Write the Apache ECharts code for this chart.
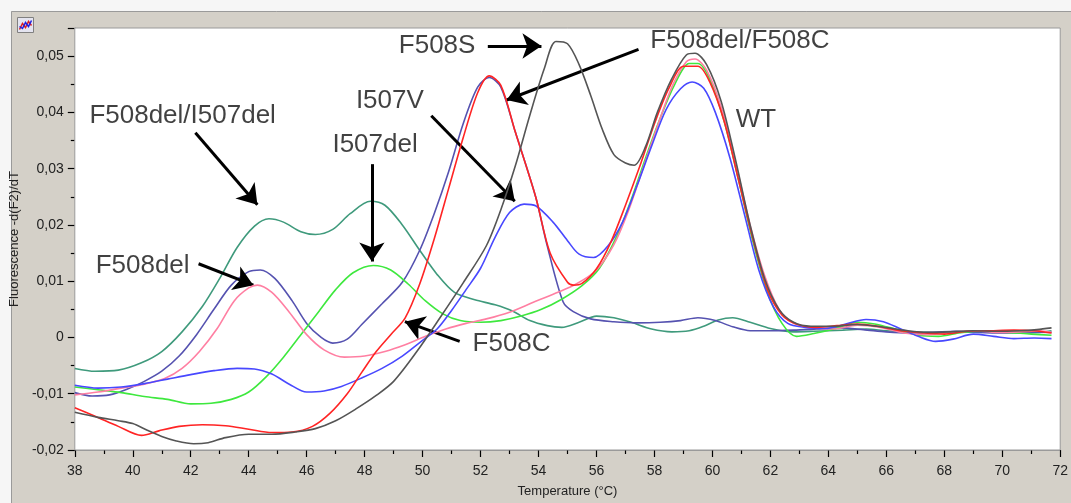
<!doctype html>
<html lang="en">
<head>
<meta charset="UTF-8">
<title>Melting curves</title>
<script src="https://cdn.jsdelivr.net/npm/echarts/dist/echarts.min.js"></script>
<style>
  html, body { margin: 0; padding: 0; background: #d4d0c8; }
</style>
</head>
<body>
<div id="main" style="width:1071px;height:503px;"></div>
<script type="text/javascript">
// data: [temperature, -d(F2)/dT]
var delI507del = [[38,-0.0055],[38.7,-0.006],[39.5,-0.0058],[40.3,-0.0045],[41,-0.0025],[41.7,0.001],[42.4,0.0055],[43,0.0105],[43.6,0.016],[44.2,0.0198],[44.7,0.0211],[45.2,0.0205],[45.8,0.0188],[46.3,0.0183],[46.9,0.0192],[47.5,0.022],[48.2,0.0242],[48.7,0.0235],[49.3,0.02],[49.9,0.0155],[50.5,0.0112],[51.1,0.008],[51.8,0.0067],[52.5,0.0058],[53.1,0.0047],[53.7,0.003],[54.3,0.0021],[54.8,0.0018],[55.4,0.0027],[56,0.0038],[56.6,0.0035],[57.2,0.0027],[57.9,0.0015],[58.6,0.001],[59.2,0.0012],[59.7,0.002],[60.2,0.0031],[60.7,0.0035],[61.3,0.0027],[62,0.0016],[62.8,0.001],[63.5,0.0011],[64.5,0.0013],[65.3,0.0015],[66,0.0012],[67,0.001],[68,0.0008],[69,0.001],[70,0.0009],[71,0.0008],[71.7,0.0012]];
var delF508C = [[38,-0.0098],[38.6,-0.0104],[39.2,-0.0102],[39.8,-0.0092],[40.4,-0.0078],[41,-0.006],[41.6,-0.0033],[42.2,0.0005],[42.8,0.005],[43.4,0.0093],[44,0.0117],[44.4,0.012],[44.9,0.0105],[45.5,0.0065],[46,0.0025],[46.5,0.0],[46.9,-0.001],[47.4,-0.0003],[47.9,0.0023],[48.6,0.006],[49.3,0.0098],[49.9,0.0155],[50.4,0.022],[50.9,0.0295],[51.4,0.038],[51.9,0.0445],[52.3,0.0462],[52.7,0.0445],[53.2,0.0365],[53.9,0.025],[54.3,0.0163],[54.85,0.0063],[55.2,0.0046],[55.8,0.0033],[56.6,0.0028],[57.4,0.0026],[58.2,0.0027],[58.9,0.003],[59.5,0.0035],[60.1,0.003],[60.7,0.0019],[61.3,0.0012],[62,0.0012],[62.8,0.0013],[63.6,0.0015],[64.4,0.0017],[65.2,0.0014],[66,0.001],[66.8,0.0008],[67.6,0.0009],[68.4,0.0011],[69.2,0.0009],[70,0.0008],[70.8,0.001],[71.7,0.0009]];
var i507del = [[38,-0.0088],[38.8,-0.0093],[39.6,-0.0098],[40.4,-0.0105],[41.2,-0.011],[42,-0.0118],[42.7,-0.0117],[43.4,-0.011],[44,-0.0097],[44.6,-0.007],[45.2,-0.0035],[45.8,0.0005],[46.4,0.0045],[47,0.0085],[47.6,0.0115],[48.3,0.0128],[48.9,0.012],[49.5,0.0095],[50.1,0.0065],[50.7,0.0042],[51.3,0.003],[52,0.0027],[52.7,0.003],[53.4,0.0038],[54.1,0.005],[54.8,0.0068],[55.5,0.0092],[56.1,0.0123],[56.7,0.018],[57.2,0.0245],[57.7,0.032],[58.2,0.039],[58.7,0.045],[59.2,0.0487],[59.5,0.0487],[59.9,0.046],[60.4,0.0385],[60.9,0.028],[61.4,0.017],[61.9,0.008],[62.4,0.0025],[62.9,0.0002],[63.5,0.0007],[64.2,0.0015],[65,0.0027],[65.6,0.0024],[66.3,0.0015],[67.1,0.0004],[67.8,0.0002],[68.6,0.0009],[69.4,0.0011],[70.2,0.0009],[71,0.0006],[71.7,0.0004]];
var f508del = [[38,-0.0102],[38.8,-0.0097],[39.6,-0.009],[40.4,-0.0083],[41.1,-0.0073],[41.7,-0.0055],[42.3,-0.0025],[42.9,0.0015],[43.5,0.0065],[44,0.0088],[44.3,0.0093],[44.8,0.008],[45.4,0.0045],[46,0.0005],[46.6,-0.0022],[47.3,-0.0035],[48,-0.0033],[48.7,-0.0025],[49.4,-0.0013],[50.1,0.0002],[50.8,0.0015],[51.5,0.0025],[52.2,0.0033],[53,0.0045],[53.8,0.0062],[54.6,0.0079],[55.3,0.0095],[56,0.012],[56.6,0.0165],[57.1,0.0225],[57.6,0.03],[58.1,0.0375],[58.6,0.0445],[59.1,0.049],[59.4,0.0495],[59.8,0.0475],[60.3,0.041],[60.8,0.031],[61.3,0.02],[61.8,0.011],[62.3,0.005],[62.8,0.0025],[63.4,0.0018],[64.2,0.0015],[65,0.0022],[65.8,0.0018],[66.6,0.0008],[67.4,0.0005],[68.2,0.0009],[69,0.0012],[69.8,0.0009],[70.6,0.001],[71.3,0.0012],[71.7,0.0009]];
var i507v = [[38,-0.0085],[38.8,-0.009],[39.6,-0.0088],[40.4,-0.0082],[41.2,-0.0074],[42,-0.0066],[42.8,-0.0059],[43.6,-0.0055],[44.2,-0.0056],[44.8,-0.0065],[45.4,-0.0083],[46,-0.0097],[46.6,-0.0095],[47.2,-0.0087],[47.9,-0.0072],[48.6,-0.0055],[49.3,-0.0033],[49.9,-0.0009],[50.5,0.0015],[51,0.0048],[51.5,0.0085],[52,0.0123],[52.5,0.0178],[53,0.0222],[53.5,0.0237],[53.9,0.0234],[54.5,0.0205],[55,0.0172],[55.4,0.0148],[55.9,0.0142],[56.4,0.0163],[56.9,0.0205],[57.4,0.027],[57.9,0.034],[58.4,0.0405],[58.9,0.0442],[59.3,0.0454],[59.7,0.0443],[60.1,0.04],[60.6,0.032],[61.1,0.022],[61.6,0.012],[62.1,0.0055],[62.6,0.0025],[63.2,0.0018],[63.9,0.0016],[64.6,0.0024],[65.3,0.0032],[65.9,0.0028],[66.5,0.0015],[67.1,0.0002],[67.7,-0.0007],[68.3,-0.0003],[69,0.0006],[69.7,0.0002],[70.4,-0.0002],[71.1,-0.0001],[71.7,-0.0002]];
var f508c = [[38,-0.0125],[38.7,-0.014],[39.5,-0.0158],[40.3,-0.0174],[40.9,-0.0166],[41.6,-0.0158],[42.4,-0.0155],[43.2,-0.0157],[44,-0.0163],[44.8,-0.0169],[45.5,-0.0168],[46.2,-0.0158],[46.8,-0.0135],[47.4,-0.01],[47.9,-0.0062],[48.4,-0.0025],[48.9,0.0005],[49.4,0.0035],[49.9,0.0095],[50.4,0.0175],[50.9,0.0265],[51.4,0.0355],[51.9,0.0435],[52.3,0.0465],[52.7,0.0448],[53.2,0.0365],[53.9,0.025],[54.4,0.015],[55,0.0098],[55.2,0.0093],[55.5,0.0096],[56,0.0122],[56.5,0.017],[57,0.0235],[57.5,0.0305],[58,0.038],[58.5,0.0443],[59,0.0482],[59.5,0.0482],[59.9,0.0455],[60.4,0.0385],[60.9,0.028],[61.4,0.0175],[61.9,0.0085],[62.4,0.004],[62.9,0.0024],[63.6,0.0018],[64.3,0.0021],[65,0.0024],[65.7,0.002],[66.5,0.0012],[67.3,0.0008],[68,0.0006],[68.8,0.0011],[69.6,0.0012],[70.4,0.0013],[71.1,0.0012],[71.7,0.0008]];
var f508s = [[38,-0.0133],[38.8,-0.0142],[39.5,-0.0148],[40,-0.0153],[40.5,-0.0165],[41,-0.0176],[41.5,-0.0184],[42.1,-0.0189],[42.6,-0.0187],[43.2,-0.0178],[44,-0.0172],[44.8,-0.0172],[45.6,-0.0168],[46.3,-0.0162],[47,-0.0148],[47.7,-0.0127],[48.4,-0.0103],[49,-0.0078],[49.8,-0.0025],[50.6,0.0035],[51.4,0.0097],[52.2,0.0163],[52.7,0.0227],[53.2,0.0305],[53.7,0.0395],[54.2,0.0478],[54.6,0.0526],[55,0.0522],[55.4,0.0485],[55.8,0.043],[56.2,0.037],[56.6,0.0325],[57,0.031],[57.3,0.0306],[57.7,0.034],[58.1,0.04],[58.6,0.046],[59.1,0.0502],[59.4,0.0505],[59.8,0.0485],[60.3,0.042],[60.8,0.0315],[61.3,0.02],[61.8,0.0105],[62.3,0.005],[62.8,0.0027],[63.4,0.002],[64.2,0.002],[65,0.0023],[65.8,0.0019],[66.6,0.0013],[67.4,0.0009],[68.2,0.001],[69,0.0012],[69.8,0.0011],[70.6,0.0012],[71.2,0.0014],[71.7,0.0017]];

// annotation texts and arrows (in data coordinates)
var labelNames = ['F508S', 'F508del/F508C', 'I507V', 'WT', 'F508del/I507del', 'I507del', 'F508del', 'F508C'];
var labelPos = [[50.5,0.0518],[60.95,0.0527],[48.87,0.042],[61.5,0.0387],[41.72,0.0394],[48.36,0.0342],[40.34,0.0128],[53.07,-0.0012]];
var arrowFrom = [[52.25,0.0518],[57.45,0.0512],[50.3,0.0394],[42.16,0.0364],[48.25,0.0308],[42.27,0.0131],[51.28,-0.0007]];
var arrowTo = [[54.1,0.0518],[52.9,0.0422],[53.18,0.0242],[44.3,0.0236],[48.25,0.0135],[44.16,0.0093],[49.39,0.0028]];

var xMin = 38, xMax = 72, yMin = -0.02, yMax = 0.055;

var curves = [delI507del, delF508C, i507del, f508del, i507v, f508c, f508s];
var colors = ['#3f9a7c', '#5552b0', '#3ee83e', '#ff7fa2', '#4848ff', '#ff2424', '#555555'];

var myChart = echarts.init(document.getElementById('main'));

function yFmt(v) {
    if (Math.abs(v) < 1e-9) return '0';
    if (Math.abs(Math.round(v * 100) - v * 100) > 1e-6) return '';
    return v.toFixed(2).replace('.', ',');
}

var tickFontFamily = 'Liberation Sans Narrow, Liberation Sans, sans-serif';

var series = [];

// white plot box, drawn as an area spanning the axis extent
series.push({
    type: 'line',
    data: [],
    silent: true,
    z: 0,
    markArea: {
        silent: true,
        itemStyle: { color: '#ffffff', borderColor: '#9a9a9a', borderWidth: 1 },
        label: { show: false },
        data: [[{ coord: [xMin, yMin] }, { coord: [xMax, yMax] }]]
    }
});

for (var i = 0; i < curves.length; i++) {
    series.push({
        type: 'line',
        data: curves[i],
        smooth: 0.3,
        showSymbol: false,
        silent: true,
        lineStyle: { color: colors[i], width: 1.6 },
        z: 2 + i
    });
}

var markData = [];
for (var j = 0; j < arrowFrom.length; j++) {
    markData.push([{ coord: arrowFrom[j] }, { coord: arrowTo[j] }]);
}
series.push({
    type: 'line',
    data: [],
    silent: true,
    z: 20,
    markLine: {
        silent: true,
        symbol: ['none', 'arrow'],
        symbolSize: 19,
        label: { show: false },
        lineStyle: { color: '#000', width: 3, type: 'solid' },
        emphasis: { disabled: true },
        data: markData
    }
});

var textData = [];
for (var k = 0; k < labelNames.length; k++) {
    textData.push({ name: labelNames[k], value: labelPos[k] });
}
series.push({
    type: 'scatter',
    data: textData,
    symbolSize: 0,
    silent: true,
    z: 21,
    label: {
        show: true,
        position: 'inside',
        formatter: '{b}',
        fontFamily: 'Liberation Sans, Arial, sans-serif',
        fontSize: 26,
        color: '#111'
    }
});

var option = {
    animation: false,
    backgroundColor: '#d4d0c8',
    grid: { left: 74, right: 9, top: 28, bottom: 45 },
    xAxis: {
        type: 'value',
        min: xMin, max: xMax, interval: 2,
        name: 'Temperature (\u00b0C)',
        nameLocation: 'middle',
        nameGap: 35,
        nameTextStyle: { fontFamily: tickFontFamily, fontSize: 13, color: '#222' },
        axisLine: { show: true, onZero: false, lineStyle: { color: '#9a9a9a', width: 1 } },
        axisTick: { show: true, inside: false, length: 7, lineStyle: { color: '#000', width: 1.2 } },
        minorTick: { show: true, splitNumber: 2, length: 4, lineStyle: { color: '#000', width: 1.2 } },
        splitLine: { show: false },
        axisLabel: { margin: 14, fontFamily: tickFontFamily, fontSize: 14, color: '#222' }
    },
    yAxis: {
        type: 'value',
        min: yMin, max: yMax, interval: 0.01,
        name: 'Fluorescence -d(F2)/dT',
        nameLocation: 'middle',
        nameGap: 42,
        nameTextStyle: { fontFamily: tickFontFamily, fontSize: 13, color: '#222' },
        axisLine: { show: true, onZero: false, lineStyle: { color: '#9a9a9a', width: 1 } },
        axisTick: { show: true, inside: false, length: 7, lineStyle: { color: '#000', width: 1.2 } },
        minorTick: { show: true, splitNumber: 2, length: 4, lineStyle: { color: '#000', width: 1.2 } },
        splitLine: { show: false },
        axisLabel: { margin: 11, fontFamily: tickFontFamily, fontSize: 14, color: '#222', formatter: yFmt }
    },
    graphic: [
        { type: 'rect', z: -10, left: 0, top: 0, shape: { width: 1071, height: 11 }, style: { fill: '#f6f6f6' }, silent: true },
        { type: 'rect', z: -10, left: 0, top: 0, shape: { width: 11, height: 503 }, style: { fill: '#f6f6f6' }, silent: true },
        { type: 'line', z: -10, shape: { x1: 11.5, y1: 11.5, x2: 1071, y2: 11.5 }, style: { stroke: '#9a9a9a', lineWidth: 1 }, silent: true },
        { type: 'line', z: -10, shape: { x1: 11.5, y1: 11.5, x2: 11.5, y2: 503 }, style: { stroke: '#9a9a9a', lineWidth: 1 }, silent: true },
        {
            type: 'group', left: 17, top: 17, silent: true,
            children: [
                { type: 'rect', shape: { x: 0, y: 0, width: 16, height: 15 }, style: { fill: '#e4e4f0', stroke: '#808080', lineWidth: 1 } },
                { type: 'polyline', shape: { points: [[2, 12], [5, 6], [8, 10], [11, 4], [14, 8]] }, style: { stroke: '#e02020', lineWidth: 1.5, fill: null } },
                { type: 'polyline', shape: { points: [[2, 9], [5, 11], [8, 5], [11, 9], [14, 3]] }, style: { stroke: '#2020e0', lineWidth: 1.5, fill: null } }
            ]
        }
    ],
    series: series
};

myChart.setOption(option);
</script>
</body>
</html>
